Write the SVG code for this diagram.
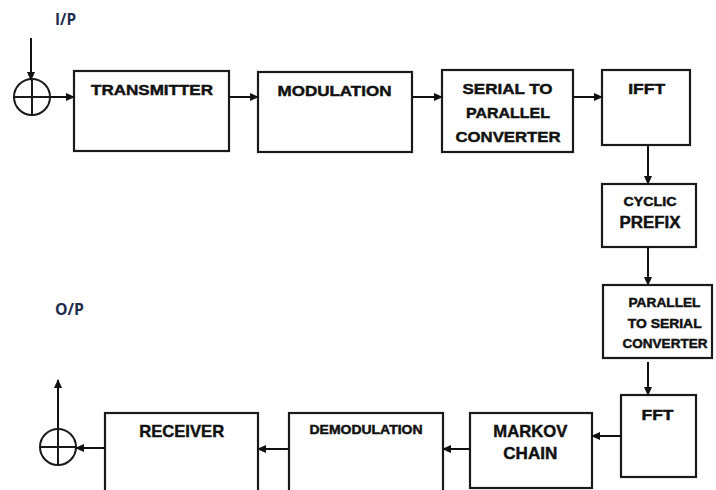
<svg xmlns="http://www.w3.org/2000/svg" width="716" height="490" viewBox="0 0 716 490">
<style>
.box{fill:#fff;stroke:#1a1a1a;stroke-width:2.2}
.sum{fill:none;stroke:#1a1a1a;stroke-width:2}
.t{font-family:"Liberation Sans",Arial,sans-serif;font-weight:bold;fill:#111;stroke:#111;stroke-width:0.45;text-anchor:middle}
.io{font-family:"Open Sans","Liberation Sans",sans-serif;font-weight:bold;fill:#1f2d4d;font-size:16px}
.c{stroke:#111;stroke-width:2;fill:none;marker-end:url(#ah)}
</style>
<defs>
<marker id="ah" markerUnits="userSpaceOnUse" markerWidth="9" markerHeight="8" refX="8" refY="4" orient="auto">
<path d="M0,0 L9,4 L0,8 z" fill="#111"/>
</marker>
</defs>
<rect width="716" height="490" fill="#fff"/>
<text class="io" x="55" y="25" textLength="21" lengthAdjust="spacingAndGlyphs">I/P</text>
<text class="io" x="55" y="315" textLength="29" lengthAdjust="spacingAndGlyphs">O/P</text>
<g id="sum-in">
<circle class="sum" cx="32" cy="97" r="18"/>
<line class="sum" x1="14" y1="97" x2="50" y2="97"/>
<line class="sum" x1="32" y1="79" x2="32" y2="115"/>
</g>
<g id="sum-out">
<circle class="sum" cx="58" cy="447" r="18"/>
<line class="sum" x1="40" y1="447" x2="76" y2="447"/>
<line class="sum" x1="58" y1="429" x2="58" y2="465"/>
</g>
<g id="transmitter">
<rect class="box" x="74" y="71" width="155" height="80"/>
<text class="t" x="152" y="95" font-size="15" textLength="122" lengthAdjust="spacingAndGlyphs">TRANSMITTER</text>
</g>
<g id="modulation">
<rect class="box" x="258" y="72" width="154" height="80"/>
<text class="t" x="334.5" y="96" font-size="15" textLength="114" lengthAdjust="spacingAndGlyphs">MODULATION</text>
</g>
<g id="s2p">
<rect class="box" x="442" y="70" width="131" height="82"/>
<text class="t" x="507.5" y="94.3" font-size="15" textLength="90" lengthAdjust="spacingAndGlyphs">SERIAL TO</text>
<text class="t" x="508" y="118.3" font-size="15" textLength="84" lengthAdjust="spacingAndGlyphs">PARALLEL</text>
<text class="t" x="508" y="141.7" font-size="15" textLength="105" lengthAdjust="spacingAndGlyphs">CONVERTER</text>
</g>
<g id="ifft">
<rect class="box" x="602" y="70" width="88" height="75"/>
<text class="t" x="646.7" y="94.3" font-size="15" textLength="37" lengthAdjust="spacingAndGlyphs">IFFT</text>
</g>
<g id="cyclic-prefix">
<rect class="box" x="602" y="184" width="94" height="63"/>
<text class="t" x="650" y="206" font-size="12" textLength="53" lengthAdjust="spacingAndGlyphs">CYCLIC</text>
<text class="t" x="650" y="227.7" font-size="16" textLength="61" lengthAdjust="spacingAndGlyphs">PREFIX</text>
</g>
<g id="p2s">
<rect class="box" x="603" y="285" width="109" height="73"/>
<text class="t" x="664.5" y="307.3" font-size="12.5" textLength="72" lengthAdjust="spacingAndGlyphs">PARALLEL</text>
<text class="t" x="664.7" y="328.3" font-size="12.5" textLength="74" lengthAdjust="spacingAndGlyphs">TO SERIAL</text>
<text class="t" x="665" y="348.3" font-size="12.5" textLength="85" lengthAdjust="spacingAndGlyphs">CONVERTER</text>
</g>
<g id="fft">
<rect class="box" x="621" y="395" width="75" height="82"/>
<text class="t" x="657.5" y="420" font-size="15.5" textLength="32" lengthAdjust="spacingAndGlyphs">FFT</text>
</g>
<g id="markov">
<rect class="box" x="470" y="413" width="122" height="75"/>
<text class="t" x="530.3" y="436.7" font-size="17" textLength="74" lengthAdjust="spacingAndGlyphs">MARKOV</text>
<text class="t" x="530.3" y="459.3" font-size="17" textLength="54" lengthAdjust="spacingAndGlyphs">CHAIN</text>
</g>
<g id="demodulation">
<rect class="box" x="289" y="413" width="154" height="90"/>
<text class="t" x="366" y="434.3" font-size="12" textLength="113" lengthAdjust="spacingAndGlyphs">DEMODULATION</text>
</g>
<g id="receiver">
<rect class="box" x="105" y="413" width="153" height="90"/>
<text class="t" x="181.7" y="437.3" font-size="17" textLength="85" lengthAdjust="spacingAndGlyphs">RECEIVER</text>
</g>
<g id="connectors">
<line class="c" x1="31" y1="38" x2="31" y2="80"/>
<line class="c" x1="50" y1="97" x2="74" y2="97"/>
<line class="c" x1="229" y1="97" x2="258" y2="97"/>
<line class="c" x1="412" y1="97" x2="442" y2="97"/>
<line class="c" x1="573" y1="97" x2="602" y2="97"/>
<line class="c" x1="648" y1="145" x2="648" y2="184"/>
<line class="c" x1="648" y1="247" x2="648" y2="285"/>
<line class="c" x1="648" y1="362" x2="648" y2="395"/>
<line class="c" x1="621" y1="436" x2="592" y2="436"/>
<line class="c" x1="470" y1="449" x2="443" y2="449"/>
<line class="c" x1="289" y1="449" x2="258" y2="449"/>
<line class="c" x1="105" y1="448" x2="76" y2="448"/>
<line class="c" x1="58" y1="429" x2="58" y2="380"/>
</g>
</svg>
